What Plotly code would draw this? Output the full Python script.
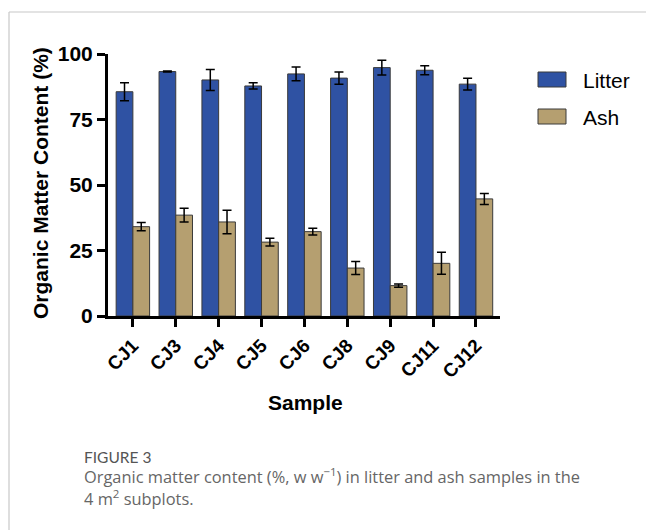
import plotly.graph_objects as go

samples = ["CJ1", "CJ3", "CJ4", "CJ5", "CJ6", "CJ8", "CJ9", "CJ11", "CJ12"]
litter = [85.6, 93.3, 90.1, 87.8, 92.4, 90.8, 94.8, 93.8, 88.5]
litter_err = [3.4, 0.2, 4.0, 1.2, 2.6, 2.3, 2.8, 1.7, 2.2]
ash = [34.1, 38.5, 35.9, 28.2, 32.2, 18.3, 11.6, 20.1, 44.7]
ash_err = [1.6, 2.6, 4.5, 1.5, 1.3, 2.5, 0.6, 4.2, 2.1]
y_ticks = [0, 25, 50, 75, 100]

BLUE = "#2F52A3"
TAN = "#B59F70"
FONT = "Liberation Sans"

W, H = 646, 530
L, R, T, B = 108, 146, 54, 214
pw, ph = W - L - R, H - T - B


def px(x):
    return (x - L) / pw


def py(y):
    return (H - B - y) / ph


fig = go.Figure()
fig.add_trace(go.Bar(
    x=samples, y=litter, name="Litter",
    marker=dict(color=BLUE, line=dict(color="#3a3a3a", width=1)),
    error_y=dict(type="data", array=litter_err, color="black", thickness=1.5, width=4.5),
))
fig.add_trace(go.Bar(
    x=samples, y=ash, name="Ash",
    marker=dict(color=TAN, line=dict(color="#3a3a3a", width=1)),
    error_y=dict(type="data", array=ash_err, color="black", thickness=1.5, width=4.5),
))

shapes = [
    dict(type="line", xref="paper", yref="paper", x0=px(9), x1=px(646), y0=py(12), y1=py(12),
         line=dict(color="#c8c8c8", width=1.2)),
    dict(type="line", xref="paper", yref="paper", x0=px(9), x1=px(9), y0=py(12), y1=py(530),
         line=dict(color="#c8c8c8", width=1.2)),
    dict(type="rect", xref="paper", yref="paper", x0=px(538), x1=px(566), y0=py(72), y1=py(87),
         fillcolor=BLUE, line=dict(color="#3a3a3a", width=1)),
    dict(type="rect", xref="paper", yref="paper", x0=px(538), x1=px(566), y0=py(109), y1=py(124),
         fillcolor=TAN, line=dict(color="#3a3a3a", width=1)),
]

annotations = [
    dict(text="Litter", xref="paper", yref="paper", x=px(581), y=py(80), xanchor="left", yanchor="middle",
         showarrow=False, font=dict(family=FONT, size=21, color="black")),
    dict(text="Ash", xref="paper", yref="paper", x=px(581), y=py(117), xanchor="left", yanchor="middle",
         showarrow=False, font=dict(family=FONT, size=21, color="black")),
    dict(text="<b>Organic Matter Content (%)</b>", xref="paper", yref="paper", x=px(40), y=py(183),
         textangle=-90, xanchor="center", yanchor="middle", showarrow=False,
         font=dict(family=FONT, size=21, color="black")),
    dict(text="<b>Sample</b>", xref="paper", yref="paper", x=px(305), y=py(402),
         xanchor="center", yanchor="middle", showarrow=False,
         font=dict(family=FONT, size=21, color="black")),
    dict(text="FIGURE 3", xref="paper", yref="paper", x=px(82), y=py(457),
         xanchor="left", yanchor="middle", showarrow=False,
         font=dict(family="Lato", size=15.5, color="#555555")),
    dict(text="Organic matter content (%, w w<sup>−1</sup>) in litter and ash samples in the",
         xref="paper", yref="paper", x=px(82), y=py(476),
         xanchor="left", yanchor="middle", showarrow=False,
         font=dict(family="Open Sans", size=16.4, color="#666666")),
    dict(text="4 m<sup>2</sup> subplots.",
         xref="paper", yref="paper", x=px(82), y=py(498),
         xanchor="left", yanchor="middle", showarrow=False,
         font=dict(family="Open Sans", size=16.4, color="#666666")),
]

fig.update_layout(
    width=W, height=H,
    margin=dict(l=L, r=R, t=T, b=B, pad=0),
    paper_bgcolor="white", plot_bgcolor="white",
    barmode="group", bargap=0.22, bargroupgap=0,
    showlegend=False,
    shapes=shapes, annotations=annotations,
    xaxis=dict(
        range=[-0.58, 8.56], showline=True, linecolor="black", linewidth=3,
        ticks="outside", ticklen=8, tickwidth=2.5, tickcolor="black",
        tickangle=-45, showgrid=False, zeroline=False,
        tickfont=dict(family=FONT, size=19, color="black", weight="bold"),
    ),
    yaxis=dict(
        range=[0, 100], tickvals=y_ticks, showline=True, linecolor="black", linewidth=3,
        ticks="outside", ticklen=8, tickwidth=2.5, tickcolor="black",
        showgrid=False, zeroline=False,
        tickfont=dict(family=FONT, size=21, color="black", weight="bold"),
    ),
)

fig.write_html(
    "out.html",
    config={"displayModeBar": False},
    post_script="document.body.style.margin='0';document.body.style.overflow='hidden';",
)
